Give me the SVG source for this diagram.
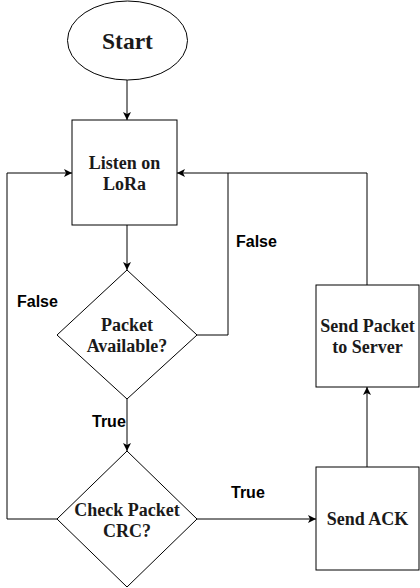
<svg xmlns="http://www.w3.org/2000/svg" width="420" height="588" viewBox="0 0 420 588">
<style>
.shape{fill:#fff;stroke:#000;stroke-width:1}
.ln{fill:none;stroke:#000;stroke-width:1}
.nt{font-family:"Liberation Serif","Times New Roman",serif;font-weight:bold;font-size:18px;fill:#1a1a1a;text-anchor:middle}
.lb{font-family:"Liberation Sans",Arial,sans-serif;font-weight:bold;font-size:16px;fill:#000}
</style>
<defs>
<marker id="arr" viewBox="0 0 8 8" markerWidth="8" markerHeight="8" refX="8" refY="4" orient="auto" markerUnits="userSpaceOnUse">
<path d="M0,0 L8,4 L0,8 L2,4 z" fill="#000"/>
</marker>
</defs>
<rect width="420" height="588" fill="#fff"/>
<g id="connectors">
<line class="ln" x1="127" y1="80" x2="127" y2="120" marker-end="url(#arr)"/>
<line class="ln" x1="127" y1="225" x2="127" y2="270" marker-end="url(#arr)"/>
<line class="ln" x1="127" y1="399" x2="127" y2="451" marker-end="url(#arr)"/>
<line class="ln" x1="197" y1="519" x2="316" y2="519" marker-end="url(#arr)"/>
<line class="ln" x1="367" y1="467" x2="367" y2="387" marker-end="url(#arr)"/>
<polyline class="ln" points="367,285 367,173 177,173" marker-end="url(#arr)"/>
<polyline class="ln" points="197,335 228,335 228,173"/>
<polyline class="ln" points="57,519 7,519 7,173 72,173" marker-end="url(#arr)"/>
<text class="lb" x="236" y="247">False</text>
<text class="lb" x="17" y="307">False</text>
<text class="lb" x="92" y="427">True</text>
<text class="lb" x="231" y="498">True</text>
</g>
<g id="start">
<ellipse class="shape" cx="127.5" cy="40.5" rx="60" ry="39.5"/>
<text class="nt" x="127.5" y="49" style="font-size:23.5px">Start</text>
</g>
<g id="listen">
<rect class="shape" x="72" y="120" width="105" height="105"/>
<text class="nt" x="124.5" y="169">Listen on</text>
<text class="nt" x="124.5" y="190">LoRa</text>
</g>
<g id="packet-available">
<polygon class="shape" points="127,270 197,335 127,399 57,335"/>
<text class="nt" x="127" y="331">Packet</text>
<text class="nt" x="127" y="352">Available?</text>
</g>
<g id="check-crc">
<polygon class="shape" points="127,451 197,519 127,587 57,519"/>
<text class="nt" x="127" y="515.5">Check Packet</text>
<text class="nt" x="127" y="536.5">CRC?</text>
</g>
<g id="send-ack">
<rect class="shape" x="316" y="467" width="103" height="103"/>
<text class="nt" x="367.5" y="525">Send ACK</text>
</g>
<g id="send-server">
<rect class="shape" x="316" y="285" width="103" height="102"/>
<text class="nt" x="367.5" y="332">Send Packet</text>
<text class="nt" x="367.5" y="352.5">to Server</text>
</g>
</svg>
